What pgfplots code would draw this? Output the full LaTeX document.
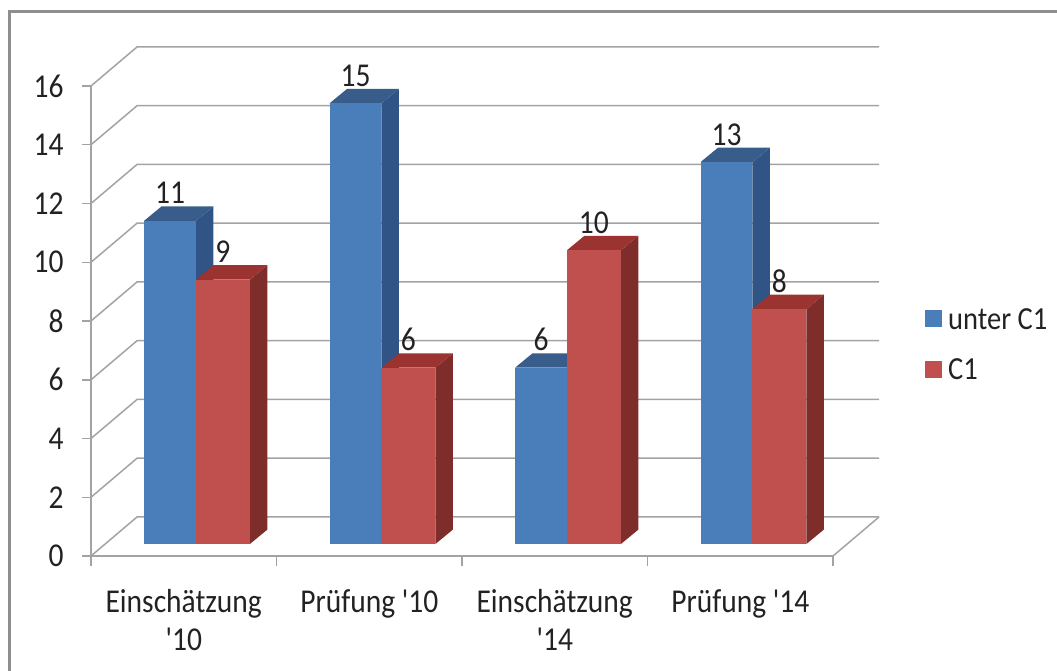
\documentclass[border=0pt]{standalone}
\usepackage{fontspec}
\setmainfont{Carlito}
\usepackage{pgfplots}
\pgfplotsset{compat=1.18}

\definecolor{blueFront}{HTML}{4A7EBB}
\definecolor{blueSide}{HTML}{2F5485}
\definecolor{blueTop}{HTML}{385D8A}
\definecolor{redFront}{HTML}{C0504D}
\definecolor{redSide}{HTML}{7F2D2B}
\definecolor{redTop}{HTML}{9B3331}
\definecolor{wallLine}{HTML}{A3A3A3}
\definecolor{frameLine}{HTML}{8E8E8E}
\definecolor{labelText}{HTML}{222222}

% Text is set a little taller than wide
\newcommand{\tall}[1]{\scalebox{1}[1.13]{#1}}

% Wall line at level #1: left wall diagonal, then along the back wall
\newcommand{\wallline}[1]{%
  \pgfmathsetmacro\wallY{#1+1.328}%
  \edef\tmpplot{\noexpand\addplot[wallLine,line width=1.5pt,forget plot]
    coordinates {(0,#1) (0.248,\wallY) (4.248,\wallY)};}%
  \tmpplot
}

% One pseudo-3D column: left edge #1, right edge #2, value #3, colour prefix #4
\newcommand{\column}[4]{%
  \pgfmathsetmacro\yBase{0.41}%
  \pgfmathsetmacro\yTop{#3+0.41}%
  \pgfmathsetmacro\xBack{#2+0.094}%
  \pgfmathsetmacro\xBackL{#1+0.094}%
  \pgfmathsetmacro\yBaseB{0.41+0.49}%
  \pgfmathsetmacro\yTopB{#3+0.41+0.49}%
  \edef\tmpplot{%
    \noexpand\addplot[fill=#4Side,draw=none,forget plot] coordinates
      {(#2,\yBase) (\xBack,\yBaseB) (\xBack,\yTopB) (#2,\yTop)} --cycle;
    \noexpand\addplot[fill=#4Top,draw=none,forget plot] coordinates
      {(#1,\yTop) (\xBackL,\yTopB) (\xBack,\yTopB) (#2,\yTop)} --cycle;
    \noexpand\addplot[fill=#4Front,draw=none,forget plot] coordinates
      {(#1,\yBase) (#1,\yTop) (#2,\yTop) (#2,\yBase)} --cycle;
  }%
  \tmpplot
}

\begin{document}
\begin{tikzpicture}[x=1pt,y=1pt]
\path[use as bounding box] (-91,-114) rectangle (966,556);
\draw[frameLine,line width=3pt] (-81,-120) -- (-81,544) -- (975,544);
\begin{axis}[
  scale only axis,
  width=742pt,
  height=470pt,
  xmin=0, xmax=4,
  ymin=0, ymax=16,
  clip=false,
  axis lines*=left,
  axis line style={wallLine,line width=1.5pt,-},
  tick style={wallLine,line width=1.5pt},
  ytick={0,2,...,16},
  ytick align=outside,
  major tick length=9pt,
  minor tick length=10pt,
  xtick={0.5,1.5,2.5,3.5},
  xticklabels={\tall{Einschätzung}\\[2pt]\tall{\textquotesingle10},
               \tall{Prüfung \textquotesingle10},
               \tall{Einschätzung}\\[2pt]\tall{\textquotesingle14},
               \tall{Prüfung \textquotesingle14}},
  minor xtick={0,1,2,3,4},
  xtick align=outside,
  major x tick style={draw=none},
  minor x tick style={wallLine,line width=1.5pt},
  x tick label style={align=center,anchor=north,yshift=-21pt,text=labelText,
    font=\fontsize{29.5}{36}\selectfont},
  y tick label style={text=labelText,font=\fontsize{29.5}{34}\selectfont,xshift=-15pt,
    yscale=1.13,transform shape},
  /pgf/number format/assume math mode=true,
  legend style={at={(1.124,0.532)},anchor=north west,draw=none,fill=none,
    font=\fontsize{28.5}{34}\selectfont,text=labelText,
    /tikz/row sep=24pt,/tikz/column sep=4pt,/tikz/inner sep=0pt},
  legend cell align=left,
  legend image code/.code={\fill[#1,draw=none] (0pt,-8pt) rectangle (17pt,9pt);},
  value label/.style={
    draw=none,forget plot,
    nodes near coords,
    point meta=y,
    nodes near coords style={anchor=base,yshift=29pt,text=labelText,
      font=\fontsize{29.5}{34}\selectfont,yscale=1.13,transform shape,
      /pgf/number format/assume math mode=true,
      /pgf/number format/precision=0},
  },
]
\addlegendimage{fill=blueFront}
\addlegendentry{\tall{unter C1}}
\addlegendimage{fill=redFront}
\addlegendentry{\tall{C1}}

% back walls, floor
\wallline{0}\wallline{2}\wallline{4}\wallline{6}\wallline{8}
\wallline{10}\wallline{12}\wallline{14}\wallline{16}
\addplot[wallLine,line width=1.5pt,forget plot] coordinates {(4,0) (4.248,1.328)};

% columns, one category after the other
\column{0.286}{0.566}{11}{blue}
\column{0.566}{0.857}{9}{red}
\column{1.286}{1.566}{15}{blue}
\column{1.566}{1.857}{6}{red}
\column{2.286}{2.566}{6}{blue}
\column{2.566}{2.857}{10}{red}
\column{3.286}{3.566}{13}{blue}
\column{3.566}{3.857}{8}{red}

% value labels
\addplot[value label] coordinates {(0.426,11) (1.426,15) (2.426,6) (3.426,13)};
\addplot[value label] coordinates {(0.711,9) (1.711,6) (2.711,10) (3.711,8)};
\end{axis}
\end{tikzpicture}
\end{document}
